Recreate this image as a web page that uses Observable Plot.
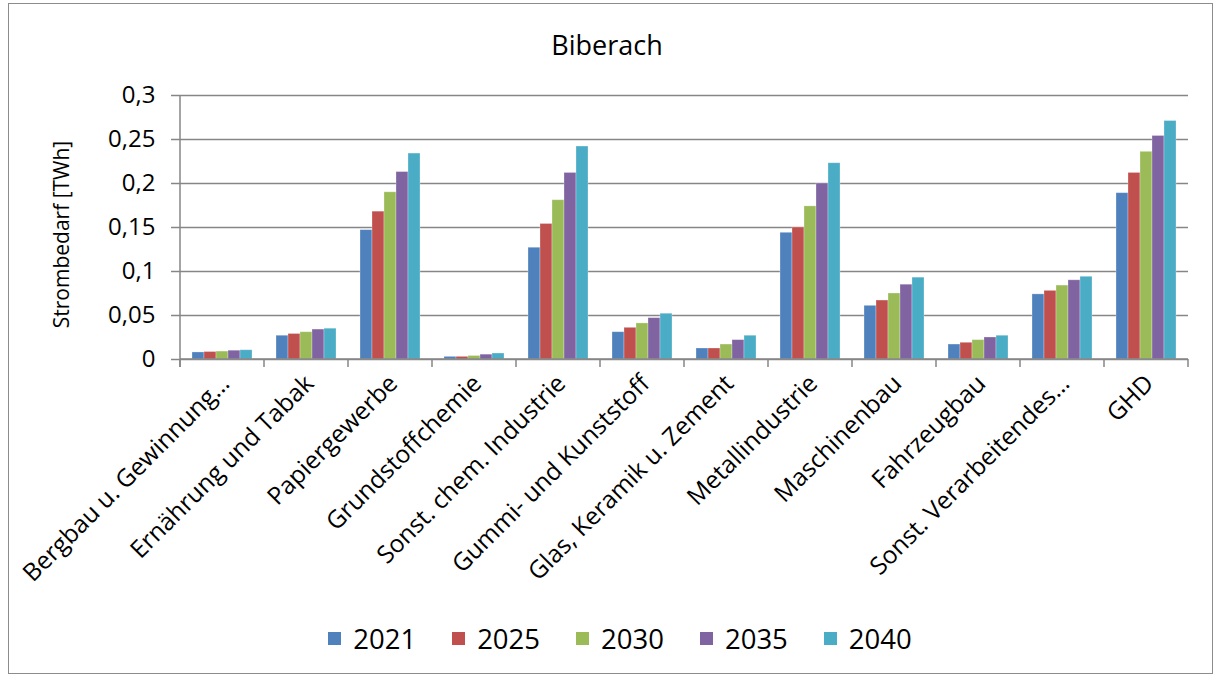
<!DOCTYPE html>
<html>
<head>
<meta charset="utf-8">
<script src="https://cdn.jsdelivr.net/npm/d3@7"></script>
<script src="https://cdn.jsdelivr.net/npm/@observablehq/plot@0.6"></script>
<style>
  body { margin: 0; background: #fff; font-family: "Open Sans", sans-serif; }
  #wrap { position: relative; width: 1214px; height: 676px; overflow: hidden; background: #fff; }
  #frame { position: absolute; left: 8px; top: 3px; width: 1203px; height: 669px; border: 1.5px solid #8c8c8c; pointer-events: none; }
  #title { position: absolute; left: 0; top: 28px; width: 1214px; height: 34px; line-height: 34px; text-align: center; font-size: 27px; color: #000; }
  #chart { position: absolute; left: 0; top: 70px; }
  #legend { position: absolute; left: 0; top: 615px; width: 1214px; height: 46px; display: flex; justify-content: center; align-items: center; padding-left: 26px; box-sizing: border-box; }
  .item { display: flex; align-items: center; margin: 0 18px; font-size: 27.5px; color: #000; }
  .sw { width: 13px; height: 13px; margin-right: 12px; }
</style>
</head>
<body>
<div id="wrap">
  <div id="title">Biberach</div>
  <div id="chart"></div>
  <div id="legend"></div>
  <div id="frame"></div>
</div>
<script>
const categories = ["Bergbau u. Gewinnung…", "Ernährung und Tabak", "Papiergewerbe", "Grundstoffchemie",
  "Sonst. chem. Industrie", "Gummi- und Kunststoff", "Glas, Keramik u. Zement", "Metallindustrie",
  "Maschinenbau", "Fahrzeugbau", "Sonst. Verarbeitendes…", "GHD"];
const years = ["2021", "2025", "2030", "2035", "2040"];
const v2021 = [0.008, 0.027, 0.147, 0.003, 0.127, 0.031, 0.0125, 0.144, 0.061, 0.017, 0.074, 0.189];
const v2025 = [0.0085, 0.029, 0.168, 0.003, 0.154, 0.036, 0.0125, 0.150, 0.067, 0.019, 0.078, 0.212];
const v2030 = [0.009, 0.031, 0.190, 0.004, 0.181, 0.041, 0.017, 0.174, 0.075, 0.022, 0.084, 0.236];
const v2035 = [0.010, 0.034, 0.213, 0.0055, 0.212, 0.047, 0.022, 0.200, 0.085, 0.025, 0.090, 0.254];
const v2040 = [0.0105, 0.035, 0.234, 0.0068, 0.242, 0.052, 0.027, 0.223, 0.093, 0.027, 0.094, 0.271];
const yTicks = [0, 0.05, 0.1, 0.15, 0.2, 0.25, 0.3];
const colors = ["#4F81BD", "#C0504D", "#9BBB59", "#8064A2", "#4BACC6"];
const yLabel = "Strombedarf [TWh]";

const series = [v2021, v2025, v2030, v2035, v2040];
const data = categories.flatMap((c, i) => years.map((yr, j) => ({category: c, year: yr, value: series[j][i]})));
const fmt = d => d === 0 ? "0" : d3.format(".2~f")(d).replace(".", ",");

const chart = Plot.plot({
  width: 1214,
  height: 520,
  marginTop: 25,
  marginBottom: 231,
  marginLeft: 177,
  marginRight: 24,
  style: {fontFamily: "'Open Sans', sans-serif", fontSize: "24px", color: "#000", background: "transparent", overflow: "visible"},
  fx: {domain: categories, padding: 0, label: null},
  x: {domain: years, paddingInner: 0, paddingOuter: 0.77, axis: null},
  y: {domain: [0, 0.3], label: null},
  color: {domain: years, range: colors},
  marks: [
    Plot.gridY(yTicks, {stroke: "#868686", strokeOpacity: 1, strokeWidth: 1.5}),
    Plot.barY(data, {fx: "category", x: "year", y: "value", fill: "year", stroke: "#ffffff", strokeOpacity: 0.35, strokeWidth: 0.8}),
    Plot.axisY(yTicks, {tickFormat: fmt, tickSize: 9, tickPadding: 16, stroke: "#868686", strokeWidth: 1.5, fill: "#000", fontSize: 24, label: null}),
    Plot.axisFx({anchor: "bottom", tickRotate: -45, tickSize: 0, tickPadding: 20, dx: 3, fontSize: 24.5, fill: "#000", label: null}),
    Plot.text([yLabel], {fx: () => categories[0], text: d => d, frameAnchor: "left", textAnchor: "middle", rotate: -90, dx: -118, dy: 7, fontSize: "21px", fill: "#000"})
  ]
});

// Excel-style axis lines and category-boundary tick marks, placed with Plot's own scales
const fx = chart.scale("fx");
const ys = chart.scale("y");
const y0 = ys.apply(0), yTop = ys.apply(0.3);
const edges = categories.map(c => fx.apply(c));
edges.push(fx.apply(categories[categories.length - 1]) + fx.bandwidth);
const g = d3.select(chart).append("g").attr("stroke", "#868686").attr("stroke-width", 1.5);
g.append("line").attr("x1", edges[0]).attr("x2", edges[0]).attr("y1", yTop).attr("y2", y0 + 8);
edges.forEach(x => g.append("line").attr("x1", x).attr("x2", x).attr("y1", y0).attr("y2", y0 + 8));
g.append("line").attr("x1", edges[0]).attr("x2", edges[edges.length - 1]).attr("y1", y0).attr("y2", y0);

document.getElementById("chart").appendChild(chart);

const legend = d3.select("#legend");
years.forEach((yr, j) => {
  const it = legend.append("div").attr("class", "item");
  it.append("div").attr("class", "sw").style("background", colors[j]);
  it.append("span").text(yr);
});
</script>
</body>
</html>
